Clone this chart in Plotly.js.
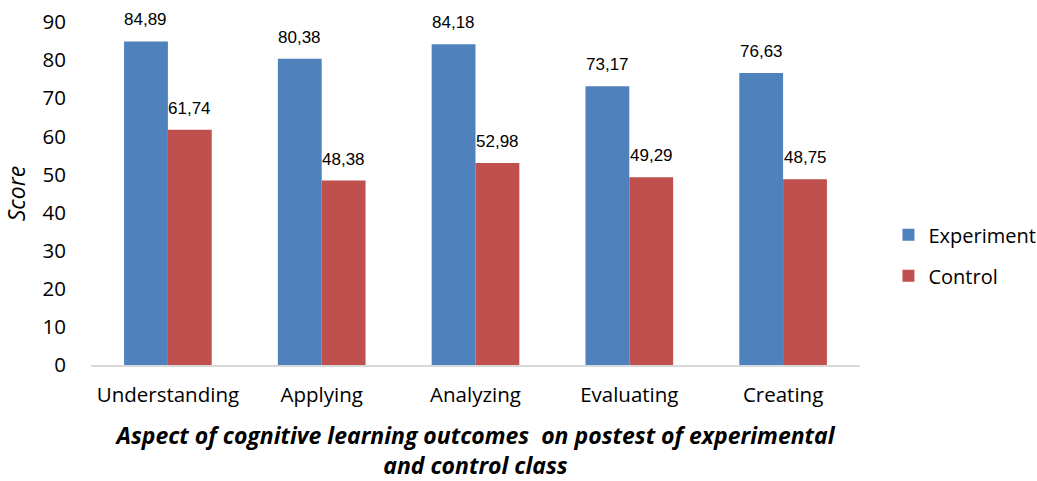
<!DOCTYPE html>
<html><head><meta charset="utf-8">
<script src="https://cdn.plot.ly/plotly-3.0.1.min.js"></script>
<style>html,body{margin:0;padding:0;background:#fff}#chart{width:1037px;height:481px}</style>
</head><body><div id="chart"></div>
<script>
const categories = ['Understanding','Applying','Analyzing','Evaluating','Creating'];
const experiment = [84.89, 80.38, 84.18, 73.17, 76.63];
const control = [61.74, 48.38, 52.98, 49.29, 48.75];
const yTicks = [0,10,20,30,40,50,60,70,80,90];
const seriesNames = ['Experiment','Control'];
const colors = ['#4f81bd','#c0504d'];

const FONT = 'Open Sans, Noto Sans, sans-serif';
const fmt = v => v.toFixed(2).replace('.', ',');
const barHalf = 22;
const annotations = [];
[experiment, control].forEach((arr, si) => {
  arr.forEach((v, i) => {
    annotations.push({
      x: categories[i], y: v, xref: 'x', yref: 'y',
      xshift: si === 0 ? -barHalf : barHalf, yshift: 10,
      yanchor: 'bottom', xanchor: 'center', showarrow: false,
      text: fmt(v), font: {family: 'Liberation Sans, Arial', size: 17, color: '#000'}
    });
  });
});

const traces = [experiment, control].map((arr, si) => ({
  type: 'bar', name: seriesNames[si], x: categories, y: arr,
  marker: {color: colors[si], line: {width: 0}},
  legendgroup: 'g' + si
}));

const layout = {
  width: 1037, height: 481,
  margin: {l: 91, r: 177, t: 22, b: 116, autoexpand: false},
  paper_bgcolor: '#fff', plot_bgcolor: '#fff',
  barmode: 'group', bargap: 0.43, bargroupgap: 0,
  showlegend: true,
  legend: {x: 1.037, y: 0.32, xanchor: 'left', yanchor: 'middle',
    font: {family: FONT, size: 20, color: '#000'},
    tracegroupgap: 12, itemwidth: 30, traceorder: 'grouped'},
  xaxis: {
    type: 'category', showline: true, linecolor: '#d9d9d9', linewidth: 2,
    ticks: 'outside', ticklen: 10, tickcolor: 'rgba(0,0,0,0)',
    tickfont: {family: FONT, size: 20.5, color: '#000'},
    showgrid: false, zeroline: false,
    title: {text: '<b><i>Aspect of cognitive learning outcomes  on postest of experimental<br>and control class</i></b>',
      font: {family: FONT, size: 23, color: '#000'}, standoff: 28}
  },
  yaxis: {
    range: [0, 90], tickvals: yTicks, showline: false, showgrid: false, zeroline: false,
    ticks: 'outside', ticklen: 20, tickcolor: 'rgba(0,0,0,0)',
    tickfont: {family: FONT, size: 20.5, color: '#000'},
    title: {text: '<i>Score</i>', font: {family: FONT, size: 23, color: '#000'}, standoff: 10}
  },
  annotations: annotations
};
Plotly.newPlot('chart', traces, layout, {displayModeBar: false, responsive: false});
</script></body></html>
